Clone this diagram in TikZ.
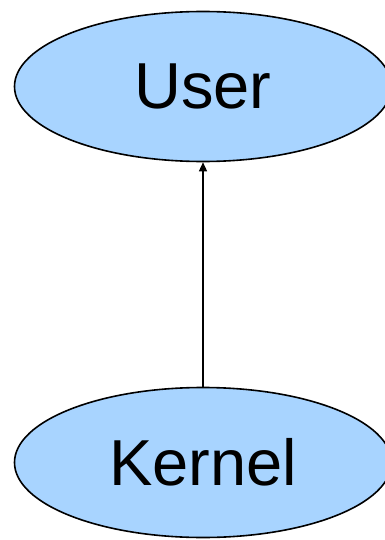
\documentclass[tikz,border=0pt]{standalone}
\usepackage{fontspec}
\setmainfont{Liberation Sans}
\usetikzlibrary{shapes.geometric,arrows.meta}
\definecolor{layerblue}{RGB}{168,212,255}
\tikzset{
  layer/.style={ellipse, draw=black, line width=1.6pt, fill=layerblue,
    minimum width=377pt, minimum height=150pt, inner sep=0pt,
    font=\fontsize{65}{68}\selectfont},
  flow/.style={line width=1.4pt, -{Triangle[length=9pt,width=8pt]}}
}
\begin{document}
\begin{tikzpicture}[x=1pt,y=-1pt]
  \useasboundingbox (0,0) rectangle (384,540);
  \node[layer] (user) at (203,86.5) {User};
  \node[layer] (kernel) at (203,462.5) {Kernel};
  \draw[flow] (kernel) -- (user);
\end{tikzpicture}
\end{document}
